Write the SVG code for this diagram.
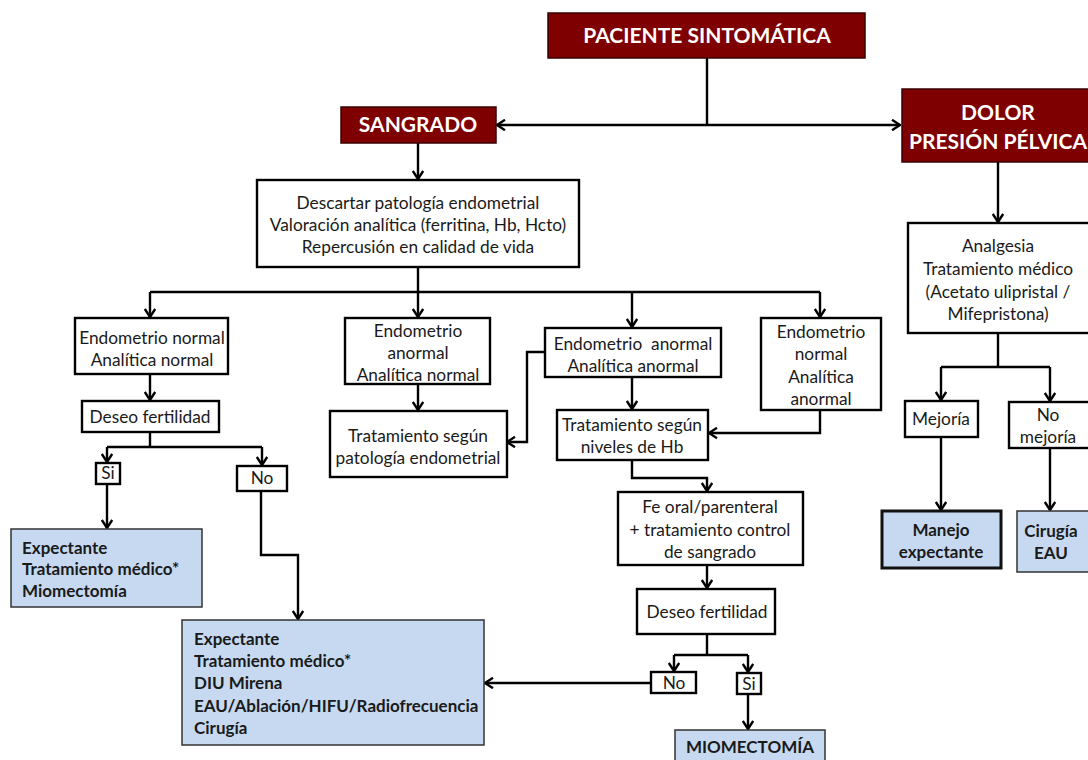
<svg xmlns="http://www.w3.org/2000/svg" width="1088" height="760" viewBox="0 0 1088 760">
  <defs>
    <style>
      .hdr { fill: #7f0000; stroke: #3a0000; stroke-width: 1.5; }
      .box { fill: #ffffff; stroke: #000000; stroke-width: 2.4; }
      .res { fill: #c6d9f1; stroke: #333333; stroke-width: 1.5; }
      .res-thick { fill: #c6d9f1; stroke: #111111; stroke-width: 3; }
      .t { font-family: Lato, "Liberation Sans", sans-serif; font-size: 17.3px; fill: #1a1a1a; text-anchor: middle; }
      .tb { font-family: Lato, "Liberation Sans", sans-serif; font-size: 17px; font-weight: bold; fill: #1a1a1a; }
      .tbc { font-family: Lato, "Liberation Sans", sans-serif; font-size: 17px; font-weight: bold; fill: #1a1a1a; text-anchor: middle; }
      .th { font-family: Lato, "Liberation Sans", sans-serif; font-size: 21px; font-weight: bold; fill: #ffffff; text-anchor: middle; }
      .ln { fill: none; stroke: #000000; stroke-width: 2.4; }
      .la { fill: none; stroke: #000000; stroke-width: 2.4; marker-end: url(#arr); }
    </style>
    <marker id="arr" viewBox="0 0 10 12" refX="9" refY="6" markerWidth="10" markerHeight="12" markerUnits="userSpaceOnUse" orient="auto">
      <path d="M1,0.8 L9,6 L1,11.2" fill="none" stroke="#000000" stroke-width="2.4"/>
    </marker>
  </defs>

  <!-- connectors -->
  <g id="connectors">
    <path class="ln" d="M707,58 V125"/>
    <path class="la" d="M707,125 H497"/>
    <path class="la" d="M707,125 H900"/>
    <path class="la" d="M418,143 V179"/>
    <path class="ln" d="M418,267 V292"/>
    <path class="ln" d="M150,292 H820"/>
    <path class="la" d="M150,292 V317"/>
    <path class="la" d="M418,292 V317"/>
    <path class="la" d="M632,292 V327"/>
    <path class="la" d="M820,292 V317"/>
    <path class="la" d="M150,374 V400"/>
    <path class="ln" d="M150,432 V447"/>
    <path class="ln" d="M107,447 H262"/>
    <path class="la" d="M107,447 V462"/>
    <path class="la" d="M262,447 V465"/>
    <path class="la" d="M107,484 V528"/>
    <path class="la" d="M261,491 V555 H298 V619"/>
    <path class="la" d="M418,384 V410"/>
    <path class="la" d="M545,352 H527 V442 H507"/>
    <path class="la" d="M632,377 V409"/>
    <path class="la" d="M820,410 V433 H709"/>
    <path class="la" d="M632,460 V478 H707 V491"/>
    <path class="la" d="M707,565 V588"/>
    <path class="ln" d="M707,634 V655"/>
    <path class="ln" d="M674,655 H748"/>
    <path class="la" d="M674,655 V671"/>
    <path class="la" d="M748,655 V672"/>
    <path class="la" d="M651,683 H485"/>
    <path class="la" d="M748,694 V729"/>
    <path class="la" d="M998,162 V222"/>
    <path class="ln" d="M998,333 V367"/>
    <path class="ln" d="M941,367 H1050"/>
    <path class="la" d="M941,367 V400"/>
    <path class="la" d="M1050,367 V401"/>
    <path class="la" d="M941,437 V510"/>
    <path class="la" d="M1050,448 V510"/>
  </g>

  <g id="paciente">
    <rect class="hdr" x="548" y="13" width="317" height="45"/>
    <text class="th" x="707" y="43">PACIENTE SINTOMÁTICA</text>
  </g>

  <g id="sangrado">
    <rect class="hdr" x="341" y="107" width="155" height="36"/>
    <text class="th" x="418" y="132">SANGRADO</text>
  </g>

  <g id="dolor">
    <rect class="hdr" x="902" y="89" width="196" height="73"/>
    <text class="th" x="998" y="120">DOLOR</text>
    <text class="th" x="998" y="149">PRESIÓN PÉLVICA</text>
  </g>

  <g id="descartar">
    <rect class="box" x="257" y="180" width="322" height="87"/>
    <text class="t" x="418" y="209">Descartar patología endometrial</text>
    <text class="t" x="418" y="231">Valoración analítica (ferritina, Hb, Hcto)</text>
    <text class="t" x="418" y="253">Repercusión en calidad de vida</text>
  </g>

  <g id="endo-normal-anal-normal">
    <rect class="box" x="75" y="318" width="153" height="56"/>
    <text class="t" x="152" y="344">Endometrio normal</text>
    <text class="t" x="152" y="366">Analítica normal</text>
  </g>

  <g id="deseo-1">
    <rect class="box" x="82" y="401" width="137" height="31"/>
    <text class="t" x="150" y="423">Deseo fertilidad</text>
  </g>

  <g id="si-1">
    <rect class="box" x="96" y="463" width="24" height="21"/>
    <text class="t" x="108" y="479">Si</text>
  </g>

  <g id="no-1">
    <rect class="box" x="237" y="466" width="50" height="25"/>
    <text class="t" x="262" y="484">No</text>
  </g>

  <g id="opciones-fertilidad">
    <rect class="res" x="11" y="529" width="191" height="78"/>
    <text class="tb" x="22" y="554">Expectante</text>
    <text class="tb" x="22" y="575">Tratamiento médico*</text>
    <text class="tb" x="22" y="597">Miomectomía</text>
  </g>

  <g id="opciones-no-fertilidad">
    <rect class="res" x="182" y="620" width="302" height="125"/>
    <text class="tb" x="194" y="645">Expectante</text>
    <text class="tb" x="194" y="667">Tratamiento médico*</text>
    <text class="tb" x="194" y="689">DIU Mirena</text>
    <text class="tb" x="194" y="712">EAU/Ablación/HIFU/Radiofrecuencia</text>
    <text class="tb" x="194" y="734">Cirugía</text>
  </g>

  <g id="endo-anormal-anal-normal">
    <rect class="box" x="345" y="318" width="145" height="66"/>
    <text class="t" x="418" y="337">Endometrio</text>
    <text class="t" x="418" y="359">anormal</text>
    <text class="t" x="418" y="381">Analítica normal</text>
  </g>

  <g id="tratamiento-patologia">
    <rect class="box" x="330" y="411" width="177" height="66"/>
    <text class="t" x="418" y="442">Tratamiento según</text>
    <text class="t" x="418" y="464">patología endometrial</text>
  </g>

  <g id="endo-anormal-anal-anormal">
    <rect class="box" x="545" y="328" width="176" height="49"/>
    <text class="t" x="633" y="350" xml:space="preserve">Endometrio  anormal</text>
    <text class="t" x="633" y="372">Analítica anormal</text>
  </g>

  <g id="tratamiento-hb">
    <rect class="box" x="557" y="410" width="151" height="50"/>
    <text class="t" x="632" y="431">Tratamiento según</text>
    <text class="t" x="632" y="453">niveles de Hb</text>
  </g>

  <g id="endo-normal-anal-anormal">
    <rect class="box" x="761" y="318" width="120" height="92"/>
    <text class="t" x="821" y="338">Endometrio</text>
    <text class="t" x="821" y="360">normal</text>
    <text class="t" x="821" y="383">Analítica</text>
    <text class="t" x="821" y="405">anormal</text>
  </g>

  <g id="hierro">
    <rect class="box" x="618" y="492" width="185" height="73"/>
    <text class="t" x="710" y="513">Fe oral/parenteral</text>
    <text class="t" x="710" y="536">+ tratamiento control</text>
    <text class="t" x="710" y="558">de sangrado</text>
  </g>

  <g id="deseo-2">
    <rect class="box" x="637" y="589" width="138" height="45"/>
    <text class="t" x="707" y="618">Deseo fertilidad</text>
  </g>

  <g id="no-2">
    <rect class="box" x="651" y="672" width="45" height="21"/>
    <text class="t" x="674" y="689">No</text>
  </g>

  <g id="si-2">
    <rect class="box" x="737" y="673" width="24" height="21"/>
    <text class="t" x="749" y="690">Si</text>
  </g>

  <g id="miomectomia">
    <rect class="res" x="675" y="730" width="150" height="42"/>
    <text class="tbc" x="750" y="753">MIOMECTOMÍA</text>
  </g>

  <g id="analgesia">
    <rect class="box" x="908" y="223" width="185" height="110"/>
    <text class="t" x="998" y="252">Analgesia</text>
    <text class="t" x="998" y="275">Tratamiento médico</text>
    <text class="t" x="998" y="298">(Acetato ulipristal /</text>
    <text class="t" x="998" y="320">Mifepristona)</text>
  </g>

  <g id="mejoria">
    <rect class="box" x="905" y="401" width="73" height="36"/>
    <text class="t" x="941" y="425">Mejoría</text>
  </g>

  <g id="no-mejoria">
    <rect class="box" x="1009" y="402" width="85" height="46"/>
    <text class="t" x="1048" y="421">No</text>
    <text class="t" x="1048" y="443">mejoría</text>
  </g>

  <g id="manejo-expectante">
    <rect class="res-thick" x="882" y="511" width="119" height="57"/>
    <text class="tbc" x="941" y="536">Manejo</text>
    <text class="tbc" x="941" y="558">expectante</text>
  </g>

  <g id="cirugia-eau">
    <rect class="res" x="1017" y="511" width="80" height="61"/>
    <text class="tbc" x="1051" y="537">Cirugía</text>
    <text class="tbc" x="1051" y="559">EAU</text>
  </g>
</svg>
